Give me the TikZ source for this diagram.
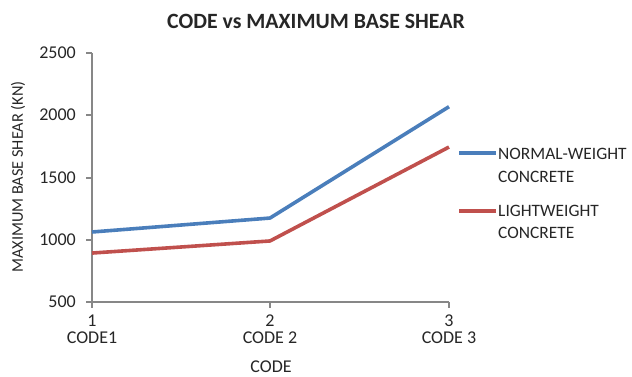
\documentclass[tikz,border=0pt]{standalone}
\usepackage{fontspec}
\setmainfont{Carlito}
\begin{document}
\begin{tikzpicture}[x=1pt,y=-1pt,
  lbl/.style={inner sep=0pt,text=black!85},
  tick/.style={lbl,font=\fontsize{18}{19}\selectfont},
  legendtext/.style={lbl,anchor=west,font=\fontsize{17.4}{18}\selectfont},
  axisline/.style={draw=black!47,line width=1.1pt},
  serieblue/.style={draw={rgb,255:red,74;green,126;blue,187},line width=3.6pt,line join=round},
  seriered/.style={draw={rgb,255:red,192;green,80;blue,77},line width=3.6pt,line join=round}]
\useasboundingbox (0,0) rectangle (632,377);
% value -> vertical position: 2500 at 53, 500 at 302
\def\vy#1{302-(#1-500)*0.12455}
% axes
\coordinate (o) at (92,302);
\coordinate (ytop) at (92,53);
\coordinate (xend) at (449,302);
\draw[axisline] (ytop) -- (o) -- (xend);
% y ticks and labels
\foreach \v/\yy in {500/302,1000/240,1500/178,2000/115,2500/53}{
  \draw[axisline] (86,\yy) -- (92,\yy);
  \node[tick,anchor=east] (yl\v) at (76,\yy) {\v};
}
% x ticks and labels
\foreach \i/\xx/\nm in {1/92/CODE1,2/270/CODE 2,3/449/CODE 3}{
  \draw[axisline] (\xx,302) -- (\xx,308);
  \node[tick] (xn\i) at (\xx,320.5) {\i};
  \node[tick] (xc\i) at (\xx,338) {\nm};
}
% axis titles
\node[tick] (xtitle) at (271,367) {CODE};
\node[lbl,font=\fontsize{16.3}{17}\selectfont,rotate=90] (ytitle) at (18,177) {MAXIMUM BASE SHEAR (KN)};
% title
\node[lbl,font=\fontsize{21.8}{22}\selectfont\bfseries] (title) at (316,21) {CODE vs MAXIMUM BASE SHEAR};
% data points
\coordinate (b1) at (92,{\vy{1062}});
\coordinate (b2) at (270,{\vy{1174}});
\coordinate (b3) at (449,{\vy{2068}});
\coordinate (r1) at (92,{\vy{893}});
\coordinate (r2) at (270,{\vy{990}});
\coordinate (r3) at (449,{\vy{1744}});
\draw[seriered] (r1) -- (r2) -- (r3);
\draw[serieblue] (b1) -- (b2) -- (b3);
% legend
\coordinate (lb0) at (459,153);
\coordinate (lb1) at (496,153);
\coordinate (lr0) at (459,211);
\coordinate (lr1) at (496,211);
\draw[serieblue,line cap=butt] (lb0) -- (lb1);
\draw[seriered,line cap=butt] (lr0) -- (lr1);
\node[legendtext] (lgb1) at (498,154) {NORMAL-WEIGHT};
\node[legendtext] (lgb2) at (498,177) {CONCRETE};
\node[legendtext] (lgr1) at (498,211) {LIGHTWEIGHT};
\node[legendtext] (lgr2) at (498,233) {CONCRETE};
\end{tikzpicture}
\end{document}
